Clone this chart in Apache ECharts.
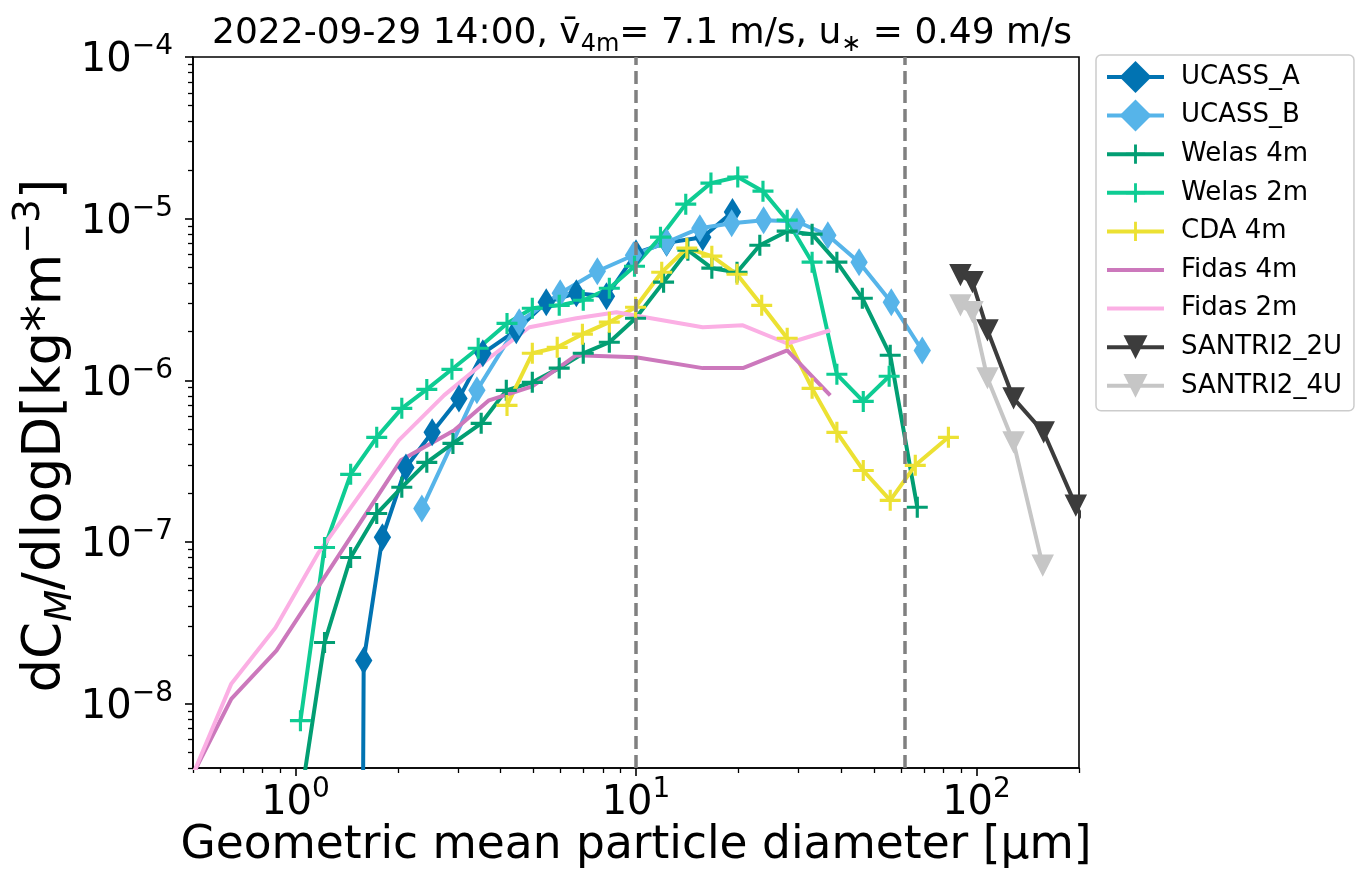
<!DOCTYPE html>
<html><head><meta charset="utf-8">
<script src="https://cdn.jsdelivr.net/npm/echarts@6/dist/echarts.min.js"></script>
<style>html,body{margin:0;padding:0;background:#fff}#c{width:1357px;height:884px}</style>
</head><body><div id="c"></div>
<script>
// ---- data ----
const ucassA_x = [1.40, 1.586, 1.80, 2.11, 2.52, 3.02, 3.55, 4.45, 5.45, 6.68, 8.19, 10.0, 12.3, 15.7, 19.2];
const ucassA_y = [0, 1.85e-8, 1.07e-7, 2.89e-7, 4.77e-7, 7.73e-7, 1.47e-6, 2.04e-6, 3.04e-6, 3.46e-6, 3.31e-6, 6.11e-6, 7.1e-6, 7.68e-6, 1.10e-5];
const ucassB_x = [2.35, 3.41, 4.54, 5.99, 7.70, 9.83, 12.3, 15.4, 19.1, 23.7, 29.7, 36.6, 45.2, 56.2, 69.3];
const ucassB_y = [1.61e-7, 8.67e-7, 2.29e-6, 3.46e-6, 4.73e-6, 5.94e-6, 7.15e-6, 8.73e-6, 9.38e-6, 9.79e-6, 9.6e-6, 7.9e-6, 5.38e-6, 3.04e-6, 1.53e-6];
const welas4_x = [1.034, 1.217, 1.452, 1.732, 2.052, 2.43, 2.90, 3.51, 4.16, 4.96, 5.95, 7.00, 8.35, 9.97, 12.05, 14.2, 16.7, 19.8, 23.1, 27.8, 32.9, 38.9, 46.2, 55.8, 67.0];
const welas4_y = [2.5e-9, 2.39e-8, 8.02e-8, 1.50e-7, 2.18e-7, 3.11e-7, 4.07e-7, 5.42e-7, 8.67e-7, 9.72e-7, 1.19e-6, 1.47e-6, 1.72e-6, 2.42e-6, 4.05e-6, 6.38e-6, 4.94e-6, 4.66e-6, 6.85e-6, 8.37e-6, 8.02e-6, 5.38e-6, 3.22e-6, 1.43e-6, 1.64e-7];
const welas2_x = [1.034, 1.217, 1.452, 1.732, 2.052, 2.43, 2.88, 3.44, 4.18, 4.96, 5.95, 7.00, 8.35, 9.90, 11.8, 14.0, 16.6, 19.9, 23.6, 27.8, 32.9, 38.9, 46.5, 55.4];
const welas2_y = [7.85e-9, 9.25e-8, 2.62e-7, 4.44e-7, 6.71e-7, 8.79e-7, 1.17e-6, 1.58e-6, 2.25e-6, 2.79e-6, 2.91e-6, 3.13e-6, 3.71e-6, 5.08e-6, 7.68e-6, 1.23e-5, 1.66e-5, 1.81e-5, 1.48e-5, 9.79e-6, 5.38e-6, 1.09e-6, 7.41e-7, 1.06e-6];
const cda4_x = [4.18, 4.96, 5.87, 6.96, 8.35, 9.97, 11.9, 14.1, 16.7, 19.8, 23.4, 27.8, 32.9, 38.9, 46.5, 55.8, 66.1, 82.7];
const cda4_y = [7.0e-7, 1.47e-6, 1.60e-6, 1.93e-6, 2.29e-6, 2.83e-6, 4.66e-6, 6.57e-6, 5.86e-6, 4.53e-6, 2.91e-6, 1.82e-6, 8.92e-7, 4.77e-7, 2.77e-7, 1.81e-7, 2.98e-7, 4.44e-7];
const fidas4_x = [0.484, 0.648, 0.879, 2.04, 2.92, 3.70, 4.96, 6.68, 10.0, 15.7, 20.6, 27.8, 37.2];
const fidas4_y = [3.2e-9, 1.07e-8, 2.13e-8, 3.2e-7, 4.9e-7, 7.52e-7, 9.18e-7, 1.43e-6, 1.39e-6, 1.19e-6, 1.19e-6, 1.53e-6, 8.07e-7];
const fidas2_x = [0.484, 0.648, 0.873, 1.169, 2.01, 2.73, 3.70, 4.86, 6.68, 8.76, 15.7, 20.6, 27.8, 37.2];
const fidas2_y = [3.1e-9, 1.33e-8, 2.95e-8, 8.6e-8, 4.25e-7, 8.07e-7, 1.37e-6, 2.13e-6, 2.42e-6, 2.64e-6, 2.13e-6, 2.19e-6, 1.69e-6, 2.04e-6];
const santri2U_x = [89.7, 97.3, 107.7, 128.5, 157.5, 195.7, 240];
const santri2U_y = [4.47e-6, 4.05e-6, 2.04e-6, 7.73e-7, 4.77e-7, 1.68e-7, 7.7e-8];
const santri4U_x = [89.7, 97.3, 107.7, 128.5, 156.5];
const santri4U_y = [2.91e-6, 2.64e-6, 1.03e-6, 4.13e-7, 7.15e-8];
const vlines_x = [10, 62];
const xMajorTicks = [1, 10, 100];
const yMajorTicks = [1e-8, 1e-7, 1e-6, 1e-5, 1e-4];
const xRange = [0.5, 200];
const yRange = [4e-9, 1e-4];

// ---- helpers ----
const L = v => v > 0 ? Math.log10(v) : -30;
const pts = (xs, ys) => xs.map((x, i) => [L(x), L(ys[i])]);
const minors = (lo, hi) => {
  const out = [];
  for (let d = Math.floor(Math.log10(lo)) - 1; d <= Math.ceil(Math.log10(hi)); d++) {
    for (let k = 2; k <= 9; k++) {
      const v = k * Math.pow(10, d);
      if (v >= lo * 0.999 && v <= hi * 1.001) out.push(L(v));
    }
  }
  return out;
};
const FONT = 'DejaVu Sans';
const SPECKS = 'M0,0 L0.001,0 L0.001,0.001 Z M0.999,0.999 L1,0.999 L1,1 Z ';
const PLUS = 'path://' + SPECKS +
  'M0.455,0.2 L0.545,0.2 L0.545,0.455 L0.8,0.455 L0.8,0.545 L0.545,0.545 L0.545,0.8 L0.455,0.8 L0.455,0.545 L0.2,0.545 L0.2,0.455 L0.455,0.455 Z';
const THIN_DIAMOND = 'path://M0.31,0 L0.62,0.5 L0.31,1 L0,0.5 Z';
const TRI_DOWN = 'path://' + SPECKS + 'M0.125,0.13 L0.875,0.13 L0.5,0.87 Z';
const supLabel = v => '{b|10}{s|' + String(Math.round(v)).replace('-', '\u2212') + '}';
const tickRich = {
  b: {fontFamily: FONT, fontSize: 40, lineHeight: 48, color: '#000', verticalAlign: 'bottom'},
  s: {fontFamily: FONT, fontSize: 28, lineHeight: 28, color: '#000', verticalAlign: 'top'}
};

function lineSeries(name, xs, ys, color, symbol, size) {
  return {
    name, type: 'line', data: pts(xs, ys), xAxisIndex: 0, yAxisIndex: 0,
    symbol: symbol || 'circle', symbolSize: symbol ? size : 0, showSymbol: !!symbol, symbolKeepAspect: true,
    lineStyle: {color, width: 4}, itemStyle: {color, borderWidth: 0},
    emphasis: {disabled: true}, animation: false, clip: true, z: 3
  };
}

const series = [
  {type: 'line', data: [], silent: true, z: 1, xAxisIndex: 0, yAxisIndex: 0,
   markLine: {silent: true, symbol: ['none', 'none'], label: {show: false},
     lineStyle: {color: '#808080', width: 3.5, type: [13, 6]},
     data: vlines_x.map(v => ({xAxis: L(v)}))}},
  lineSeries('UCASS_A', ucassA_x, ucassA_y, '#0173B2', THIN_DIAMOND, 28),
  lineSeries('UCASS_B', ucassB_x, ucassB_y, '#56B4E9', THIN_DIAMOND, 28),
  lineSeries('Welas 4m', welas4_x, welas4_y, '#029E73', PLUS, 35),
  lineSeries('Welas 2m', welas2_x, welas2_y, '#0ECC93', PLUS, 35),
  lineSeries('CDA 4m', cda4_x, cda4_y, '#ECE133', PLUS, 35),
  lineSeries('Fidas 4m', fidas4_x, fidas4_y, '#CC78BC'),
  lineSeries('Fidas 2m', fidas2_x, fidas2_y, '#FBAFE4'),
  lineSeries('SANTRI2_2U', santri2U_x, santri2U_y, '#3C3C3C', TRI_DOWN, 30),
  lineSeries('SANTRI2_4U', santri4U_x, santri4U_y, '#C6C6C6', TRI_DOWN, 30)
];

const legendNames = ['UCASS_A', 'UCASS_B', 'Welas 4m', 'Welas 2m', 'CDA 4m', 'Fidas 4m', 'Fidas 2m', 'SANTRI2_2U', 'SANTRI2_4U'];
const noSymbol = ['Fidas 4m', 'Fidas 2m'];

const gridRect = {left: 193, top: 57, right: 278, bottom: 116, outerBoundsMode: 'none', containLabel: false};
const hiddenLine = {show: true, onZero: false, lineStyle: {color: '#000', width: 0.01, opacity: 0}};

const chart = echarts.init(document.getElementById('c'), null, {renderer: 'canvas'});
chart.setOption({
  animation: false,
  backgroundColor: '#fff',
  title: {
    text: '{n|2022-09-29 14:00, v\u0304}{sub|4m}{n|= 7.1 m/s, u}{sub|\u2217}{n| = 0.49 m/s}',
    left: 637, top: 3, textAlign: 'center',
    textStyle: {
      fontFamily: FONT, fontSize: 36, fontWeight: 'normal', color: '#000',
      rich: {
        n: {fontFamily: FONT, fontSize: 36, lineHeight: 44, color: '#000', verticalAlign: 'bottom'},
        sub: {fontFamily: FONT, fontSize: 24, lineHeight: 24, color: '#000', verticalAlign: 'bottom', padding: [0, 0, -5, 0]}
      }
    }
  },
  legend: {
    orient: 'vertical', left: 1096, top: 55,
    itemWidth: 57, itemHeight: 40, itemGap: 4.6,
    padding: [5, 12, 8, 9],
    borderColor: '#cccccc', borderWidth: 1.5, borderRadius: 5,
    lineStyle: {width: 4},
    textStyle: {fontFamily: FONT, fontSize: 26, lineHeight: 34, color: '#000', padding: [0, 0, 0, 12]},
    data: legendNames.map(n => noSymbol.includes(n) ? {name: n, itemStyle: {opacity: 0}} : {name: n}),
    selectedMode: false
  },
  grid: [
    Object.assign({show: true, borderColor: '#000', borderWidth: 1.6, backgroundColor: 'transparent'}, gridRect)
  ],
  xAxis: [
    {type: 'value', gridIndex: 0, min: L(xRange[0]), max: L(xRange[1]), position: 'bottom',
     name: 'Geometric mean particle diameter [\u03bcm]', nameLocation: 'middle', nameGap: 55, nameMoveOverlap: false,
     nameTextStyle: {fontFamily: FONT, fontSize: 45.5, color: '#000'},
     axisLine: {show: true, onZero: false, lineStyle: {color: '#000', width: 1.6}},
     axisTick: {show: true, customValues: xMajorTicks.map(L), length: 8, lineStyle: {color: '#000', width: 1.6}},
     axisLabel: {customValues: xMajorTicks.map(L), formatter: supLabel, margin: 8, rich: tickRich},
     splitLine: {show: false}},
    {type: 'value', gridIndex: 0, min: L(xRange[0]), max: L(xRange[1]), position: 'bottom',
     axisLine: hiddenLine, axisLabel: {show: false}, splitLine: {show: false},
     axisTick: {show: true, customValues: minors(xRange[0], xRange[1]), length: 5, lineStyle: {color: '#000', width: 1.3}}}
  ],
  yAxis: [
    {type: 'value', gridIndex: 0, min: L(yRange[0]), max: L(yRange[1]), position: 'left',
     name: '{n|dC}{i|M}{n|/dlogD[kg*m}{s|\u22123}{n|]}', nameLocation: 'middle', nameGap: 120, nameRotate: 90, nameMoveOverlap: false,
     nameTextStyle: {fontFamily: FONT, fontSize: 53, color: '#000', padding: [0, 46, 0, 0],
       rich: {
         n: {fontFamily: FONT, fontSize: 53, lineHeight: 62, color: '#000', verticalAlign: 'bottom'},
         i: {fontFamily: FONT, fontSize: 37, fontStyle: 'italic', lineHeight: 37, color: '#000', verticalAlign: 'bottom', padding: [0, 0, -7, 0]},
         s: {fontFamily: FONT, fontSize: 37, lineHeight: 37, color: '#000', verticalAlign: 'top'}
       }},
     axisLine: {show: true, onZero: false, lineStyle: {color: '#000', width: 1.6}},
     axisTick: {show: true, customValues: yMajorTicks.map(L), length: 8, lineStyle: {color: '#000', width: 1.6}},
     axisLabel: {customValues: yMajorTicks.map(L), formatter: supLabel, margin: 20, rich: tickRich},
     splitLine: {show: false}},
    {type: 'value', gridIndex: 0, min: L(yRange[0]), max: L(yRange[1]), position: 'left',
     axisLine: hiddenLine, axisLabel: {show: false}, splitLine: {show: false},
     axisTick: {show: true, customValues: minors(yRange[0], yRange[1]), length: 5, lineStyle: {color: '#000', width: 1.3}}}
  ],
  series
});
</script>
</body></html>
